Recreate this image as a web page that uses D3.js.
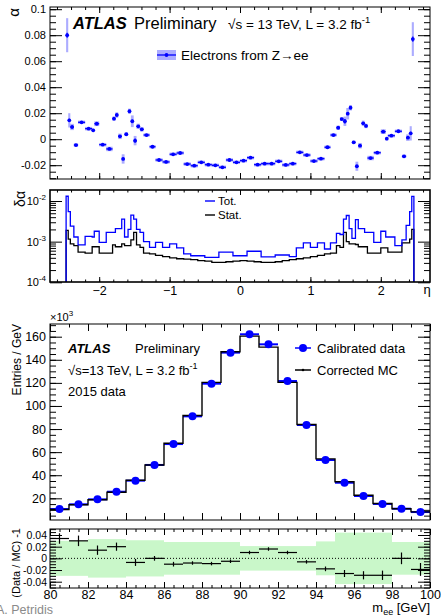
<!DOCTYPE html>
<html>
<head>
<meta charset="utf-8">
<script src="https://cdn.jsdelivr.net/npm/d3@7"></script>
<style>
  body { margin: 0; background: #fff; }
  svg { display: block; font-family: "Liberation Sans", Arial, Helvetica, sans-serif; }
  .tick line { stroke: #000; }
</style>
</head>
<body>
<svg id="chart" width="441" height="616"></svg>
<script>
// ---------- data ----------
// eta binning (68 bins)
const etaEdges = [-2.47,-2.44,-2.41,-2.36,-2.3,-2.2,-2.1,-2.07,-2.0,-1.9,-1.81,-1.77,-1.73,-1.68,-1.64,-1.59,-1.55,-1.51,-1.47,-1.42,
                  -1.37,-1.285,-1.2,-1.1,-1.0,-0.9,-0.8,-0.7,-0.6,-0.5,-0.4,-0.3,-0.2,-0.1,0,0.1,0.2,0.3,0.4,0.5,
                  0.6,0.7,0.8,0.9,1.0,1.1,1.2,1.285,1.37,1.42,1.47,1.51,1.55,1.59,1.64,1.68,1.73,1.77,1.81,1.9,
                  2.0,2.07,2.1,2.2,2.3,2.36,2.41,2.44,2.47];

const alphaValues = [0.080,0.0145,0.0094,-0.0045,0.013,0.0081,0.0068,0.0119,-0.0042,-0.0075,
                     0.0158,0.0186,0.0022,-0.0152,0.0038,0.0215,0.0138,-0.0011,0.0099,0.0076,
                     0.0032,-0.0058,-0.016,-0.0175,-0.0116,-0.0106,-0.0191,-0.0204,-0.0178,-0.0196,
                     -0.0201,-0.0216,-0.016,-0.0178,-0.0165,-0.0142,-0.0196,-0.0188,-0.0188,-0.017,
                     -0.0198,-0.0188,-0.0101,-0.0122,-0.0168,-0.015,-0.0062,0.0032,0.0088,0.0155,
                     0.0138,0.0196,0.0242,-0.0024,-0.0208,-0.005,0.0122,0.0102,-0.0145,-0.0104,
                     0.0058,0.0004,0.0027,0.0061,-0.0132,0.0012,0.0045,0.077];

const alphaTot = [0.0131,0.0055,0.0024,0.0013,0.00083,0.00135,0.0013,0.0018,0.00096,0.0017,
                  0.0017,0.0021,0.0021,0.0036,0.0013,0.002,0.0045,0.0036,0.002,0.0017,
                  0.001,0.00072,0.00096,0.00072,0.00088,0.0007,0.0005,0.00045,0.00045,0.00041,
                  0.00041,0.00055,0.00055,0.00045,0.00045,0.00058,0.00058,0.00042,0.00042,0.00047,
                  0.00047,0.00043,0.0007,0.00093,0.00072,0.00093,0.00066,0.00093,0.0016,0.0015,
                  0.0036,0.0044,0.0021,0.0012,0.0035,0.0021,0.0021,0.0017,0.0017,0.00096,
                  0.0018,0.0013,0.0013,0.0008,0.0011,0.0025,0.0055,0.013];

const alphaStat = [0.0019,0.00116,0.00088,0.0008,0.00055,0.00052,0.00075,0.00075,0.00052,0.00052,
                   0.00083,0.00075,0.00075,0.00088,0.0008,0.0008,0.0011,0.0017,0.00083,0.00072,
                   0.00052,0.0005,0.00046,0.00043,0.0004,0.00038,0.00037,0.00036,0.00034,0.00033,
                   0.00031,0.00031,0.00032,0.00033,0.00034,0.00033,0.00032,0.00031,0.00031,0.00032,
                   0.00034,0.00036,0.00038,0.0004,0.00043,0.00046,0.0005,0.00052,0.0008,0.00072,
                   0.0017,0.001,0.00088,0.00088,0.00085,0.00075,0.00075,0.00075,0.00052,0.00052,
                   0.0007,0.0007,0.00055,0.00055,0.00093,0.00093,0.00115,0.002];

// Z mass peak, 1 GeV bins, entries in units of 10^3
const massEdges = [80,81,82,83,84,85,86,87,88,89,90,91,92,93,94,95,96,97,98,99,100];
const dataEntries = [10.7,14.8,19.1,25.7,35.3,48.9,67.0,91.0,119.3,146.2,162.1,153.4,121.6,83.5,53.2,33.5,22.0,15.1,11.0,8.1];
const mcEntries   = [10.35,14.4,18.8,25.2,35.6,48.9,67.7,91.7,120.4,146.9,160.5,151.0,120.4,84.0,54.2,34.4,22.7,15.55,11.0,8.26];
const ratioValues = [0.034,0.030,0.014,0.020,-0.007,0.0,-0.010,-0.008,-0.009,-0.005,0.010,0.016,0.010,-0.006,-0.018,-0.026,-0.029,-0.029,0.0,-0.019];
const ratioErrors = [0.009,0.009,0.008,0.007,0.006,0.004,0.004,0.003,0.003,0.003,0.003,0.003,0.003,0.003,0.004,0.006,0.007,0.008,0.010,0.011];
const ratioBand   = [0.030,0.030,0.033,0.033,0.031,0.031,0.028,0.028,0.028,0.028,0.021,0.021,0.021,0.021,0.029,0.044,0.044,0.044,0.028,0.028];

const etaTicks = [-2,-1,0,1,2];
const alphaTicks = [-0.02,0,0.02,0.04,0.06,0.08,0.1];
const entriesTicks = [20,40,60,80,100,120,140,160];
const massTicks = [80,82,84,86,88,90,92,94,96,98,100];
const ratioTicks = [-0.04,-0.02,0,0.02,0.04];

// ---------- layout ----------
const svg = d3.select("#chart");
const L = 50, R = 430;
const P1 = {top: 7, bottom: 179};      // alpha
const P2 = {top: 190, bottom: 282};    // delta alpha
const P3 = {top: 324, bottom: 520};    // m_ee
const P4 = {top: 529, bottom: 588};    // ratio

const BLUE = "#0000ff";
const BOX = "#8080ff";

const xEta = d3.scaleLinear().domain([-2, 2]).range([99.2, 380.8]);
const yAlpha = d3.scaleLinear().domain([0, 0.1]).range([139.2, 9.2]);
const yDelta = d3.scaleLog().domain([1e-4, 1e-2]).range([282.3, 201]);
const xMass = d3.scaleLinear().domain([80, 100]).range([L, R]);
const yEntries = d3.scaleLinear().domain([0, 160]).range([521.4, 336.7]);
const yRatio = d3.scaleLinear().domain([-0.04, 0.04]).range([581.7, 535]);

const defs = svg.append("defs");
[["cTop", P1], ["cMid", P2], ["cMain", P3], ["cRat", P4]].forEach(([id, p]) => {
    defs.append("clipPath").attr("id", id)
        .append("rect").attr("x", L).attr("y", p.top).attr("width", R - L).attr("height", p.bottom - p.top);
});

const fmtNum = v => v === 0 ? "0" : String(+v.toFixed(2));
const fmtEta = v => String(v).replace("-", "\u2212");

// ticks on all four sides of a frame
function frameTicks(x, y, box, s) {
    const g = svg.append("g");
    const put = (axis, tr, vals, size) => g.append("g").attr("transform", tr)
        .call(axis.tickValues(vals).tickSize(size).tickFormat(""))
        .call(a => a.select(".domain").remove());
    put(d3.axisBottom(x), `translate(0,${box.bottom})`, s.xMajor, -s.xLen);
    put(d3.axisBottom(x), `translate(0,${box.bottom})`, s.xMinor, -s.xLen / 2);
    put(d3.axisTop(x), `translate(0,${box.top})`, s.xMajor, -s.xLen);
    put(d3.axisTop(x), `translate(0,${box.top})`, s.xMinor, -s.xLen / 2);
    put(d3.axisLeft(y), `translate(${L},0)`, s.yMajor, -s.yLen);
    put(d3.axisLeft(y), `translate(${L},0)`, s.yMinor, -s.yLen / 2);
    put(d3.axisRight(y), `translate(${R},0)`, s.yMajor, -s.yLen);
    put(d3.axisRight(y), `translate(${R},0)`, s.yMinor, -s.yLen / 2);
}
function frame(box, w) {
    svg.append("rect").attr("x", L).attr("y", box.top).attr("width", R - L).attr("height", box.bottom - box.top)
        .attr("fill", "none").attr("stroke", "#000").attr("stroke-width", w || 1);
}
const inside = (scale, lo, hi) => v => { const p = scale(v); return p >= lo - 0.1 && p <= hi + 0.1; };

// ================= panel 1 : alpha vs eta =================
const etaMinor = d3.range(-13, 14).map(k => k * 0.2).filter(inside(xEta, L, R));
const alphaMinor = d3.range(-6, 21).map(k => k * 0.005).filter(inside(yAlpha, P1.top, P1.bottom));

const bins = alphaValues.map((a, i) => ({lo: etaEdges[i], hi: etaEdges[i + 1], a, tot: alphaTot[i], stat: alphaStat[i]}));

const gA = svg.append("g").attr("clip-path", "url(#cTop)");
gA.selectAll("rect.box").data(bins).join("rect")
    .attr("x", d => xEta(d.lo)).attr("width", d => xEta(d.hi) - xEta(d.lo))
    .attr("y", d => Math.min(yAlpha(d.a + d.tot), yAlpha(d.a) - 1.7))
    .attr("height", d => Math.max(yAlpha(d.a - d.tot) - yAlpha(d.a + d.tot), 3.4))
    .attr("fill", BOX).attr("fill-opacity", 0.65);
gA.selectAll("line.h").data(bins).join("line")
    .attr("x1", d => xEta(d.lo)).attr("x2", d => xEta(d.hi))
    .attr("y1", d => yAlpha(d.a)).attr("y2", d => yAlpha(d.a))
    .attr("stroke", BLUE).attr("stroke-width", 1.3);
gA.selectAll("line.v").data(bins).join("line")
    .attr("x1", d => xEta((d.lo + d.hi) / 2)).attr("x2", d => xEta((d.lo + d.hi) / 2))
    .attr("y1", d => yAlpha(d.a - d.stat)).attr("y2", d => yAlpha(d.a + d.stat))
    .attr("stroke", BLUE).attr("stroke-width", 1.2);
gA.selectAll("circle").data(bins).join("circle")
    .attr("cx", d => xEta((d.lo + d.hi) / 2)).attr("cy", d => yAlpha(d.a))
    .attr("r", 1.9).attr("fill", BLUE);

frameTicks(xEta, yAlpha, P1, {xMajor: etaTicks, xMinor: etaMinor, xLen: 6,
    yMajor: alphaTicks, yMinor: alphaMinor, yLen: 12});
frame(P1);

svg.append("g").attr("transform", `translate(${L},0)`)
    .call(d3.axisLeft(yAlpha).tickValues(alphaTicks).tickSize(0).tickPadding(4).tickFormat(fmtNum))
    .call(a => a.select(".domain").remove())
    .selectAll("text").attr("font-size", 11).attr("font-family", null);

svg.append("text").attr("transform", "translate(19,8) rotate(-90)").attr("text-anchor", "end")
    .attr("font-size", 15).text("\u03b1");

svg.append("text").attr("x", 73).attr("y", 29).attr("font-size", 16.5)
    .attr("font-weight", "bold").attr("font-style", "italic").text("ATLAS");
svg.append("text").attr("x", 134).attr("y", 29).attr("font-size", 16.5).text("Preliminary");
{
    const t = svg.append("text").attr("x", 228).attr("y", 29).attr("font-size", 13.5);
    t.append("tspan").text("\u221as = 13 TeV, L = 3.2 fb");
    t.append("tspan").attr("dy", -6).attr("font-size", 9.5).text("-1");
}
// legend
svg.append("rect").attr("x", 157).attr("y", 50).attr("width", 19).attr("height", 10)
    .attr("fill", BOX).attr("fill-opacity", 0.65);
svg.append("line").attr("x1", 157).attr("x2", 176).attr("y1", 55).attr("y2", 55).attr("stroke", BLUE).attr("stroke-width", 1.3);
svg.append("circle").attr("cx", 166.5).attr("cy", 55).attr("r", 1.9).attr("fill", BLUE);
svg.append("text").attr("x", 181).attr("y", 60).attr("font-size", 13.5).text("Electrons from Z\u2192ee");

// ================= panel 2 : delta alpha =================
function stepPoints(vals) {
    const pts = [[xEta(etaEdges[0]), P2.bottom + 2]];
    vals.forEach((v, i) => {
        pts.push([xEta(etaEdges[i]), yDelta(v)]);
        pts.push([xEta(etaEdges[i + 1]), yDelta(v)]);
    });
    pts.push([xEta(etaEdges[etaEdges.length - 1]), P2.bottom + 2]);
    return pts;
}
const gD = svg.append("g").attr("clip-path", "url(#cMid)");
gD.append("path").attr("d", d3.line()(stepPoints(alphaStat)))
    .attr("fill", "none").attr("stroke", "#000").attr("stroke-width", 1.3);
gD.append("path").attr("d", d3.line()(stepPoints(alphaTot)))
    .attr("fill", "none").attr("stroke", BLUE).attr("stroke-width", 1.3);

const deltaMajor = [1e-4, 1e-3, 1e-2];
const deltaMinor = yDelta.ticks().filter(v => !deltaMajor.includes(v));
frameTicks(xEta, yDelta, P2, {xMajor: etaTicks, xMinor: etaMinor, xLen: 5,
    yMajor: deltaMajor, yMinor: deltaMinor, yLen: 12});
frame(P2, 1.6);

[[-2, 1e-2], [-3, 1e-3], [-4, 1e-4]].forEach(([e, v]) => {
    const t = svg.append("text").attr("x", 46).attr("y", yDelta(v) + 4).attr("text-anchor", "end").attr("font-size", 11);
    t.append("tspan").text("10");
    t.append("tspan").attr("dy", -5).attr("font-size", 8).text("-" + (-e));
});
svg.append("g").attr("transform", `translate(0,${P2.bottom})`)
    .call(d3.axisBottom(xEta).tickValues(etaTicks).tickSize(0).tickPadding(4).tickFormat(fmtEta))
    .call(a => a.select(".domain").remove())
    .selectAll("text").attr("font-size", 12.5).attr("font-family", null);
svg.append("text").attr("x", 427).attr("y", 294).attr("text-anchor", "middle").attr("font-size", 13).text("\u03b7");
svg.append("text").attr("transform", "translate(25,191) rotate(-90)").attr("text-anchor", "end")
    .attr("font-size", 14).text("\u03b4\u03b1");

// legend
svg.append("line").attr("x1", 205).attr("x2", 215).attr("y1", 201).attr("y2", 201).attr("stroke", BLUE).attr("stroke-width", 1.4);
svg.append("text").attr("x", 218).attr("y", 205).attr("font-size", 11.5).text("Tot.");
svg.append("line").attr("x1", 205).attr("x2", 215).attr("y1", 215).attr("y2", 215).attr("stroke", "#000").attr("stroke-width", 1.4);
svg.append("text").attr("x", 218).attr("y", 219).attr("font-size", 11.5).text("Stat.");

// ================= panel 3 : m_ee =================
const mass = dataEntries.map((d, i) => ({lo: massEdges[i], hi: massEdges[i + 1], data: d, mc: mcEntries[i],
    r: ratioValues[i], err: ratioErrors[i], band: ratioBand[i]}));

const gM = svg.append("g").attr("clip-path", "url(#cMain)");
gM.selectAll("line.dh").data(mass).join("line")
    .attr("x1", d => xMass(d.lo)).attr("x2", d => xMass(d.hi))
    .attr("y1", d => yEntries(d.data)).attr("y2", d => yEntries(d.data))
    .attr("stroke", BLUE).attr("stroke-width", 2);
const mcPts = mass.map(d => [xMass(d.lo), yEntries(d.mc)]);
mcPts.push([xMass(100), yEntries(mass[mass.length - 1].mc)]);
gM.append("path").attr("d", d3.line().curve(d3.curveStepAfter)(mcPts))
    .attr("fill", "none").attr("stroke", "#000").attr("stroke-width", 1.4);
gM.selectAll("circle").data(mass).join("circle")
    .attr("cx", d => xMass((d.lo + d.hi) / 2)).attr("cy", d => yEntries(d.data))
    .attr("r", 4).attr("fill", BLUE);

const entriesMinor = d3.range(1, 35).map(k => k * 5).filter(inside(yEntries, P3.top, P3.bottom));
const massMinor = d3.range(80, 100.01, 1);
frameTicks(xMass, yEntries, P3, {xMajor: massTicks, xMinor: massMinor, xLen: 7,
    yMajor: entriesTicks, yMinor: entriesMinor, yLen: 12});
frame(P3);

svg.append("g").attr("transform", `translate(${L},0)`)
    .call(d3.axisLeft(yEntries).tickValues(entriesTicks).tickSize(0).tickPadding(4))
    .call(a => a.select(".domain").remove())
    .selectAll("text").attr("font-size", 12.5).attr("font-family", null);
{
    const t = svg.append("text").attr("x", 50).attr("y", 321).attr("font-size", 11);
    t.append("tspan").text("\u00d710");
    t.append("tspan").attr("dy", -5).attr("font-size", 8).text("3");
}
svg.append("text").attr("transform", "translate(21,324) rotate(-90)").attr("text-anchor", "end")
    .attr("font-size", 12).text("Entries / GeV");

svg.append("text").attr("x", 68).attr("y", 353).attr("font-size", 13)
    .attr("font-weight", "bold").attr("font-style", "italic").text("ATLAS");
svg.append("text").attr("x", 135).attr("y", 353).attr("font-size", 13).text("Preliminary");
{
    const t = svg.append("text").attr("x", 68).attr("y", 375).attr("font-size", 13);
    t.append("tspan").text("\u221as=13 TeV, L = 3.2 fb");
    t.append("tspan").attr("dy", -6).attr("font-size", 9).text("-1");
}
svg.append("text").attr("x", 68).attr("y", 396).attr("font-size", 13).text("2015 data");

svg.append("line").attr("x1", 295).attr("x2", 311).attr("y1", 348).attr("y2", 348).attr("stroke", BLUE).attr("stroke-width", 1.5);
svg.append("circle").attr("cx", 303).attr("cy", 348).attr("r", 4).attr("fill", BLUE);
svg.append("text").attr("x", 317).attr("y", 353).attr("font-size", 13).text("Calibrated data");
svg.append("line").attr("x1", 295).attr("x2", 311).attr("y1", 370).attr("y2", 370).attr("stroke", "#000").attr("stroke-width", 1.5);
svg.append("circle").attr("cx", 303).attr("cy", 370).attr("r", 1.3).attr("fill", "#000");
svg.append("text").attr("x", 317).attr("y", 375).attr("font-size", 13).text("Corrected MC");

// ================= panel 4 : ratio =================
const gR = svg.append("g").attr("clip-path", "url(#cRat)");
gR.selectAll("rect").data(mass).join("rect")
    .attr("x", d => xMass(d.lo)).attr("width", d => xMass(d.hi) - xMass(d.lo))
    .attr("y", d => yRatio(d.band)).attr("height", d => yRatio(-d.band) - yRatio(d.band))
    .attr("fill", "#c9f7c9");
gR.append("line").attr("x1", L).attr("x2", R).attr("y1", yRatio(0)).attr("y2", yRatio(0))
    .attr("stroke", "#000").attr("stroke-width", 1).attr("stroke-dasharray", "1,2");
gR.selectAll("line.rh").data(mass).join("line")
    .attr("x1", d => xMass(d.lo)).attr("x2", d => xMass(d.hi))
    .attr("y1", d => yRatio(d.r)).attr("y2", d => yRatio(d.r))
    .attr("stroke", "#000").attr("stroke-width", 1.2);
gR.selectAll("line.rv").data(mass).join("line")
    .attr("x1", d => xMass((d.lo + d.hi) / 2)).attr("x2", d => xMass((d.lo + d.hi) / 2))
    .attr("y1", d => yRatio(d.r - d.err)).attr("y2", d => yRatio(d.r + d.err))
    .attr("stroke", "#000").attr("stroke-width", 1.2);

const ratioMinor = d3.range(-10, 11).map(k => k * 0.005).filter(inside(yRatio, P4.top, P4.bottom));
const ratioMassMinor = d3.range(160, 201).map(k => k / 2);
frameTicks(xMass, yRatio, P4, {xMajor: massTicks, xMinor: ratioMassMinor, xLen: 6,
    yMajor: ratioTicks, yMinor: ratioMinor, yLen: 12});
frame(P4);

svg.append("g").attr("transform", `translate(${L},0)`)
    .call(d3.axisLeft(yRatio).tickValues(ratioTicks).tickSize(0).tickPadding(3).tickFormat(fmtNum))
    .call(a => a.select(".domain").remove())
    .selectAll("text").attr("font-size", 10.5).attr("font-family", null);
svg.append("g").attr("transform", `translate(0,${P4.bottom})`)
    .call(d3.axisBottom(xMass).tickValues(massTicks).tickSize(0).tickPadding(2))
    .call(a => a.select(".domain").remove())
    .selectAll("text").attr("font-size", 12.5).attr("font-family", null);

svg.append("text").attr("transform", "translate(20,528) rotate(-90)").attr("text-anchor", "end")
    .attr("font-size", 11).text("(Data / MC) -1");
{
    const t = svg.append("text").attr("x", 430).attr("y", 612).attr("text-anchor", "end").attr("font-size", 13);
    t.append("tspan").text("m");
    t.append("tspan").attr("dy", 3).attr("font-size", 9).text("ee");
    t.append("tspan").attr("dy", -3).text(" [GeV]");
}
svg.append("text").attr("x", -4).attr("y", 614).attr("font-size", 12.5).attr("fill", "#8a8a8a").text("A. Petridis");
</script>
</body>
</html>
